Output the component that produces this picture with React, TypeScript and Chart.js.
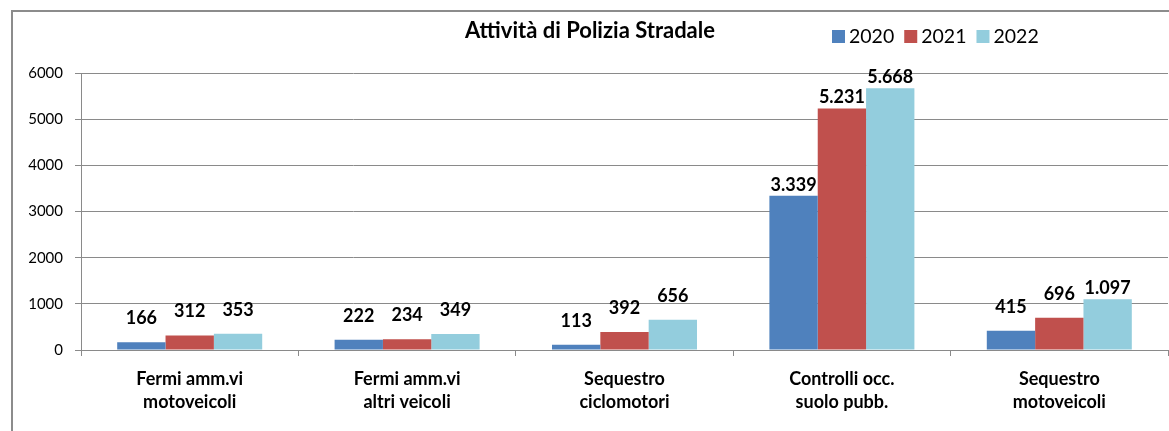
import React, { useEffect, useRef } from "react";
import { Chart, registerables } from "chart.js";

Chart.register(...registerables);

const chartTitle = "Attività di Polizia Stradale";
const categories: string[][] = [
  ["Fermi amm.vi", "motoveicoli"],
  ["Fermi amm.vi", "altri veicoli"],
  ["Sequestro", "ciclomotori"],
  ["Controlli occ.", "suolo pubb."],
  ["Sequestro", "motoveicoli"],
];
const seriesNames = ["2020", "2021", "2022"];
const values2020 = [166, 222, 113, 3339, 415];
const values2021 = [312, 234, 392, 5231, 696];
const values2022 = [353, 349, 656, 5668, 1097];
const yMin = 0;
const yMax = 6000;
const yStep = 1000;

const colors = ["#4F81BD", "#C0504D", "#93CDDD"];
const FONT = "Lato, 'Open Sans', sans-serif";
const GRID = "#8a8a8a";

const fmt = (v: number) => String(v).replace(/\B(?=(\d{3})+(?!\d))/g, ".");

const decorPlugin = {
  id: "decor",
  beforeDraw(chart: any) {
    const ctx = chart.ctx;
    ctx.save();
    ctx.strokeStyle = "#8c8c8c";
    ctx.lineWidth = 2;
    ctx.beginPath();
    ctx.moveTo(12, chart.height);
    ctx.lineTo(12, 11);
    ctx.lineTo(chart.width, 11);
    ctx.stroke();
    ctx.restore();
  },
  afterDraw(chart: any) {
    const ctx = chart.ctx;
    ctx.save();
    // title
    ctx.fillStyle = "#000";
    ctx.font = `bold 22px ${FONT}`;
    ctx.textAlign = "center";
    ctx.textBaseline = "middle";
    ctx.fillText(chartTitle, 590, 31);
    // legend
    ctx.font = `19.5px ${FONT}`;
    ctx.textAlign = "left";
    let x = 832;
    chart.data.datasets.forEach((ds: any) => {
      ctx.fillStyle = ds.backgroundColor;
      ctx.fillRect(x, 30, 13, 13);
      ctx.fillStyle = "#000";
      ctx.fillText(ds.label, x + 17, 37);
      x += 17 + ctx.measureText(ds.label).width + 10;
    });
    ctx.restore();
  },
  afterDatasetsDraw(chart: any) {
    const ctx = chart.ctx;
    ctx.save();
    ctx.fillStyle = "#000";
    ctx.font = `bold 18px ${FONT}`;
    ctx.textAlign = "center";
    ctx.textBaseline = "middle";
    chart.data.datasets.forEach((ds: any, i: number) => {
      const meta = chart.getDatasetMeta(i);
      meta.data.forEach((bar: any, j: number) => {
        const v = ds.data[j];
        const off = v < 1000 ? 24 : 11;
        ctx.fillText(fmt(v), bar.x, bar.y - off);
      });
    });
    ctx.restore();
  },
};

export default function App() {
  const ref = useRef<HTMLCanvasElement | null>(null);
  useEffect(() => {
    if (!ref.current) return;
    const chart = new Chart(ref.current, {
      type: "bar",
      data: {
        labels: categories,
        datasets: [values2020, values2021, values2022].map((d, i) => ({
          label: seriesNames[i],
          data: d,
          backgroundColor: colors[i],
          borderWidth: 0,
          categoryPercentage: 0.667,
          barPercentage: 1,
        })),
      },
      options: {
        responsive: false,
        animation: false,
        layout: { padding: { top: 73, right: 1, bottom: 0, left: 0 } },
        plugins: {
          legend: { display: false },
          title: { display: false },
          tooltip: { enabled: false },
        },
        scales: {
          x: {
            grid: {
              drawOnChartArea: false,
              drawTicks: true,
              tickLength: 6,
              color: GRID,
            },
            border: { color: GRID, width: 1 },
            ticks: {
              color: "#000",
              font: { family: FONT, size: 18, weight: "bold", lineHeight: 1.28 },
              padding: 12,
              maxRotation: 0,
              autoSkip: false,
            },
            afterFit(scale: any) {
              scale.height = 81;
            },
          },
          y: {
            min: yMin,
            max: yMax,
            grid: { color: GRID, tickLength: 6, lineWidth: 1 },
            border: { color: GRID, width: 1 },
            ticks: {
              stepSize: yStep,
              color: "#000",
              font: { family: FONT, size: 15 },
              padding: 12,
              callback: (v: any) => String(v),
            },
            afterFit(scale: any) {
              scale.width = 81;
            },
          },
        },
      },
      plugins: [decorPlugin],
    });
    return () => chart.destroy();
  }, []);
  return (
    <div style={{ position: "absolute", left: 0, top: 0, width: 1169, height: 431, background: "#fff" }}>
      <canvas ref={ref} width={1169} height={431} style={{ display: "block" }} />
    </div>
  );
}
